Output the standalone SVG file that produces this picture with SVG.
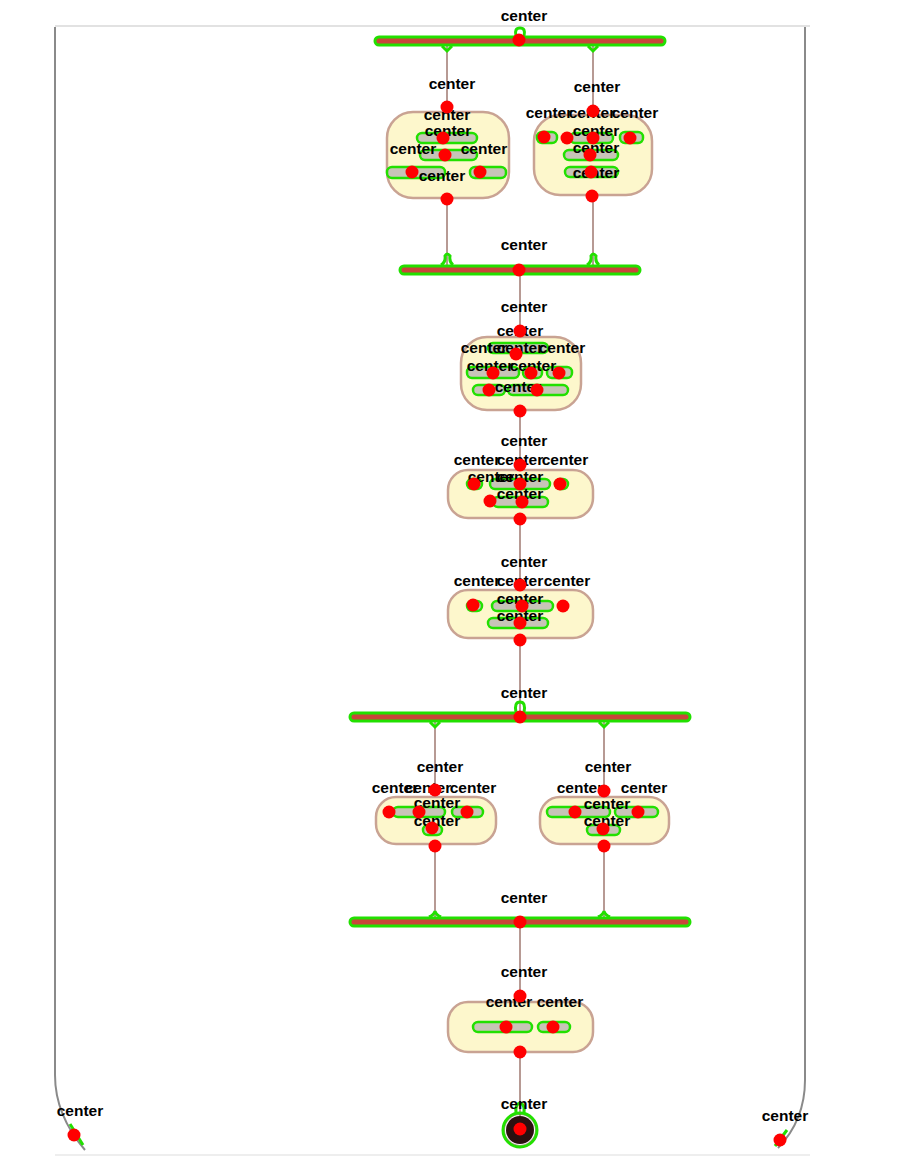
<svg xmlns="http://www.w3.org/2000/svg" width="912" height="1169" viewBox="0 0 912 1169">
<style>
.lbl{font-family:"Liberation Sans",Arial,sans-serif;font-size:15.5px;font-weight:bold;fill:#000;text-anchor:middle}
.dot{fill:#ff0000}
.blob{fill:#c8c4b8;stroke:#22e000;stroke-width:2.5}
.node{fill:#fdf7cc;stroke:#c9a393;stroke-width:2.5}
.bar{fill:#c9453a;stroke:#22e000;stroke-width:3}
.edge{fill:none;stroke:#b79a94;stroke-width:2}
.frame{fill:none;stroke:#8a8a8a;stroke-width:2}
.glow{fill:none;stroke:#22e000;stroke-width:3}
</style>
<rect width="912" height="1169" fill="#ffffff"/>
<g id="frame">
<line x1="55" y1="26" x2="810" y2="26" stroke="#e2e2e2" stroke-width="2"/>
<line x1="55" y1="1155" x2="810" y2="1155" stroke="#eeeeee" stroke-width="2"/>
<path class="frame" d="M55,27 L55,1075 Q55,1115 85,1150"/>
<path class="frame" d="M805,27 L805,1080 Q805,1120 778,1148"/>
<path class="glow" d="M70,1124 L83,1145"/>
<path class="glow" d="M775,1146 L787,1130"/>
</g>
<g id="connectors">
<line class="edge" x1="447" y1="45" x2="447" y2="112"/>
<line class="edge" x1="593" y1="45" x2="593" y2="115"/>
<line class="edge" x1="447" y1="198" x2="447" y2="266"/>
<line class="edge" x1="593" y1="195" x2="593" y2="266"/>
<line class="edge" x1="520" y1="274" x2="520" y2="337"/>
<line class="edge" x1="520" y1="410" x2="520" y2="470"/>
<line class="edge" x1="520" y1="518" x2="520" y2="590"/>
<line class="edge" x1="520" y1="638" x2="520" y2="713"/>
<line class="edge" x1="435" y1="721" x2="435" y2="797"/>
<line class="edge" x1="604" y1="721" x2="604" y2="797"/>
<line class="edge" x1="435" y1="844" x2="435" y2="918"/>
<line class="edge" x1="604" y1="844" x2="604" y2="918"/>
<line class="edge" x1="520" y1="926" x2="520" y2="1002"/>
<line class="edge" x1="520" y1="1052" x2="520" y2="1116"/>
</g>
<g id="fork1">
<rect class="bar" x="375" y="37" width="290" height="8" rx="4"/>
<path class="glow" d="M516,36 Q514,28 520,28 Q526,28 524,36"/>
<path class="glow" d="M442,46 L447,51 L452,46 M588,46 L593,51 L598,46"/>
<circle class="dot" cx="519" cy="40" r="6.5"/>
<text class="lbl" x="524" y="21">center</text>
</g>
<g id="actionA1">
<rect class="node" x="387" y="112" width="122" height="86" rx="26"/>
<rect class="blob" x="417" y="133" width="60" height="10" rx="5"/>
<rect class="blob" x="420" y="150" width="57" height="10" rx="5"/>
<rect class="blob" x="387" y="167" width="58" height="11" rx="5"/>
<rect class="blob" x="470" y="167" width="36" height="11" rx="5"/>
<text class="lbl" x="452" y="89">center</text>
<text class="lbl" x="447" y="120">center</text>
<text class="lbl" x="448" y="136">center</text>
<text class="lbl" x="413" y="154">center</text>
<text class="lbl" x="484" y="154">center</text>
<text class="lbl" x="442" y="181">center</text>
<circle class="dot" cx="447" cy="107" r="6.5"/>
<circle class="dot" cx="443" cy="138" r="6.5"/>
<circle class="dot" cx="445" cy="155" r="6.5"/>
<circle class="dot" cx="412" cy="172" r="6.5"/>
<circle class="dot" cx="480" cy="172" r="6.5"/>
<circle class="dot" cx="447" cy="199" r="6.5"/>
</g>
<g id="actionA2">
<rect class="node" x="534" y="115" width="118" height="80" rx="26"/>
<rect class="blob" x="537" y="132" width="20" height="11" rx="5"/>
<rect class="blob" x="570" y="133" width="43" height="10" rx="5"/>
<rect class="blob" x="620" y="132" width="23" height="11" rx="5"/>
<rect class="blob" x="564" y="150" width="54" height="10" rx="5"/>
<rect class="blob" x="565" y="167" width="53" height="10" rx="5"/>
<text class="lbl" x="597" y="92">center</text>
<text class="lbl" x="549" y="118">center</text>
<text class="lbl" x="592" y="118">center</text>
<text class="lbl" x="635" y="118">center</text>
<text class="lbl" x="596" y="136">center</text>
<text class="lbl" x="596" y="153">center</text>
<text class="lbl" x="596" y="178">center</text>
<circle class="dot" cx="593" cy="111" r="6.5"/>
<circle class="dot" cx="544" cy="137" r="6.5"/>
<circle class="dot" cx="567" cy="138" r="6.5"/>
<circle class="dot" cx="593" cy="138" r="6.5"/>
<circle class="dot" cx="630" cy="138" r="6.5"/>
<circle class="dot" cx="590" cy="155" r="6.5"/>
<circle class="dot" cx="591" cy="172" r="6.5"/>
<circle class="dot" cx="592" cy="196" r="6.5"/>
</g>
<g id="join1">
<rect class="bar" x="400" y="266" width="240" height="8" rx="4"/>
<path class="glow" d="M441,265 Q446,262 445,256 Q447,252 450,256 Q449,262 453,265 M587,265 Q592,262 591,256 Q593,252 596,256 Q595,262 599,265"/>
<circle class="dot" cx="519" cy="270" r="6.5"/>
<text class="lbl" x="524" y="250">center</text>
</g>
<g id="actionB">
<rect class="node" x="461" y="337" width="120" height="73" rx="26"/>
<rect class="blob" x="488" y="343" width="60" height="10" rx="5"/>
<rect class="blob" x="467" y="367" width="52" height="11" rx="5"/>
<rect class="blob" x="523" y="367" width="19" height="11" rx="5"/>
<rect class="blob" x="547" y="367" width="25" height="11" rx="5"/>
<rect class="blob" x="473" y="385" width="32" height="10" rx="5"/>
<rect class="blob" x="508" y="385" width="60" height="10" rx="5"/>
<text class="lbl" x="524" y="312">center</text>
<text class="lbl" x="520" y="336">center</text>
<text class="lbl" x="484" y="353">center</text>
<text class="lbl" x="520" y="353">center</text>
<text class="lbl" x="562" y="353">center</text>
<text class="lbl" x="490" y="371">center</text>
<text class="lbl" x="533" y="371">center</text>
<text class="lbl" x="518" y="392">center</text>
<circle class="dot" cx="520" cy="331" r="6.5"/>
<circle class="dot" cx="516" cy="354" r="6.5"/>
<circle class="dot" cx="493" cy="373" r="6.5"/>
<circle class="dot" cx="531" cy="373" r="6.5"/>
<circle class="dot" cx="559" cy="373" r="6.5"/>
<circle class="dot" cx="489" cy="390" r="6.5"/>
<circle class="dot" cx="537" cy="390" r="6.5"/>
<circle class="dot" cx="520" cy="411" r="6.5"/>
</g>
<g id="actionC">
<rect class="node" x="448" y="470" width="145" height="48" rx="20"/>
<rect class="blob" x="467" y="479" width="15" height="10" rx="5"/>
<rect class="blob" x="490" y="479" width="60" height="10" rx="5"/>
<rect class="blob" x="555" y="479" width="13" height="10" rx="5"/>
<rect class="blob" x="493" y="497" width="55" height="10" rx="5"/>
<text class="lbl" x="524" y="446">center</text>
<text class="lbl" x="477" y="465">center</text>
<text class="lbl" x="520" y="465">center</text>
<text class="lbl" x="565" y="465">center</text>
<text class="lbl" x="491" y="482">center</text>
<text class="lbl" x="520" y="482">center</text>
<text class="lbl" x="520" y="499">center</text>
<circle class="dot" cx="520" cy="465" r="6.5"/>
<circle class="dot" cx="474" cy="484" r="6.5"/>
<circle class="dot" cx="520" cy="484" r="6.5"/>
<circle class="dot" cx="560" cy="484" r="6.5"/>
<circle class="dot" cx="490" cy="501" r="6.5"/>
<circle class="dot" cx="522" cy="502" r="6.5"/>
<circle class="dot" cx="520" cy="519" r="6.5"/>
</g>
<g id="actionD">
<rect class="node" x="448" y="590" width="145" height="48" rx="20"/>
<rect class="blob" x="467" y="601" width="15" height="10" rx="5"/>
<rect class="blob" x="492" y="601" width="61" height="10" rx="5"/>
<rect class="blob" x="488" y="618" width="60" height="10" rx="5"/>
<text class="lbl" x="524" y="567">center</text>
<text class="lbl" x="477" y="586">center</text>
<text class="lbl" x="520" y="586">center</text>
<text class="lbl" x="567" y="586">center</text>
<text class="lbl" x="520" y="604">center</text>
<text class="lbl" x="520" y="621">center</text>
<circle class="dot" cx="520" cy="585" r="6.5"/>
<circle class="dot" cx="473" cy="605" r="6.5"/>
<circle class="dot" cx="522" cy="606" r="6.5"/>
<circle class="dot" cx="563" cy="606" r="6.5"/>
<circle class="dot" cx="520" cy="623" r="6.5"/>
<circle class="dot" cx="520" cy="640" r="6.5"/>
</g>
<g id="fork2">
<rect class="bar" x="350" y="713" width="340" height="8" rx="4"/>
<path class="glow" d="M516,712 Q514,702 520,702 Q526,702 524,712"/>
<path class="glow" d="M430,722 L435,727 L440,722 M599,722 L604,727 L609,722"/>
<circle class="dot" cx="520" cy="717" r="6.5"/>
<text class="lbl" x="524" y="698">center</text>
</g>
<g id="actionE1">
<rect class="node" x="376" y="797" width="120" height="47" rx="20"/>
<rect class="blob" x="393" y="807" width="52" height="10" rx="5"/>
<rect class="blob" x="452" y="807" width="31" height="10" rx="5"/>
<rect class="blob" x="423" y="825" width="19" height="10" rx="5"/>
<text class="lbl" x="440" y="772">center</text>
<text class="lbl" x="395" y="793">center</text>
<text class="lbl" x="428" y="793">center</text>
<text class="lbl" x="473" y="793">center</text>
<text class="lbl" x="437" y="808">center</text>
<text class="lbl" x="437" y="826">center</text>
<circle class="dot" cx="435" cy="790" r="6.5"/>
<circle class="dot" cx="389" cy="812" r="6.5"/>
<circle class="dot" cx="419" cy="812" r="6.5"/>
<circle class="dot" cx="467" cy="812" r="6.5"/>
<circle class="dot" cx="432" cy="828" r="6.5"/>
<circle class="dot" cx="435" cy="846" r="6.5"/>
</g>
<g id="actionE2">
<rect class="node" x="540" y="797" width="129" height="47" rx="20"/>
<rect class="blob" x="547" y="807" width="63" height="10" rx="5"/>
<rect class="blob" x="615" y="807" width="43" height="10" rx="5"/>
<rect class="blob" x="587" y="825" width="33" height="10" rx="5"/>
<text class="lbl" x="608" y="772">center</text>
<text class="lbl" x="580" y="793">center</text>
<text class="lbl" x="644" y="793">center</text>
<text class="lbl" x="607" y="809">center</text>
<text class="lbl" x="607" y="826">center</text>
<circle class="dot" cx="604" cy="791" r="6.5"/>
<circle class="dot" cx="575" cy="812" r="6.5"/>
<circle class="dot" cx="638" cy="812" r="6.5"/>
<circle class="dot" cx="603" cy="829" r="6.5"/>
<circle class="dot" cx="604" cy="846" r="6.5"/>
</g>
<g id="join2">
<rect class="bar" x="350" y="918" width="340" height="8" rx="4"/>
<path class="glow" d="M429,917 Q434,915 435,911 Q436,915 441,917 M598,917 Q603,915 604,911 Q605,915 610,917"/>
<circle class="dot" cx="520" cy="922" r="6.5"/>
<text class="lbl" x="524" y="903">center</text>
</g>
<g id="actionF">
<rect class="node" x="448" y="1002" width="145" height="50" rx="20"/>
<rect class="blob" x="473" y="1022" width="59" height="10" rx="5"/>
<rect class="blob" x="538" y="1022" width="32" height="10" rx="5"/>
<text class="lbl" x="524" y="977">center</text>
<text class="lbl" x="509" y="1007">center</text>
<text class="lbl" x="560" y="1007">center</text>
<circle class="dot" cx="520" cy="996" r="6.5"/>
<circle class="dot" cx="506" cy="1027" r="6.5"/>
<circle class="dot" cx="553" cy="1027" r="6.5"/>
<circle class="dot" cx="520" cy="1052" r="6.5"/>
</g>
<g id="final">
<circle cx="520" cy="1130" r="14" fill="#2a1010"/>
<circle cx="520" cy="1130" r="16" fill="none" stroke="#6a3a30" stroke-width="2" opacity="0.5"/>
<circle class="glow" cx="520" cy="1130" r="17"/>
<path class="glow" d="M516,1113 Q515,1104 520,1103 Q525,1104 524,1113"/>
<circle class="dot" cx="520" cy="1129" r="6.5"/>
<text class="lbl" x="524" y="1109">center</text>
</g>
<g id="cornerLabels">
<text class="lbl" x="80" y="1116">center</text>
<circle class="dot" cx="74" cy="1135" r="6.5"/>
<text class="lbl" x="785" y="1121">center</text>
<circle class="dot" cx="780" cy="1140" r="6.5"/>
</g>
</svg>
